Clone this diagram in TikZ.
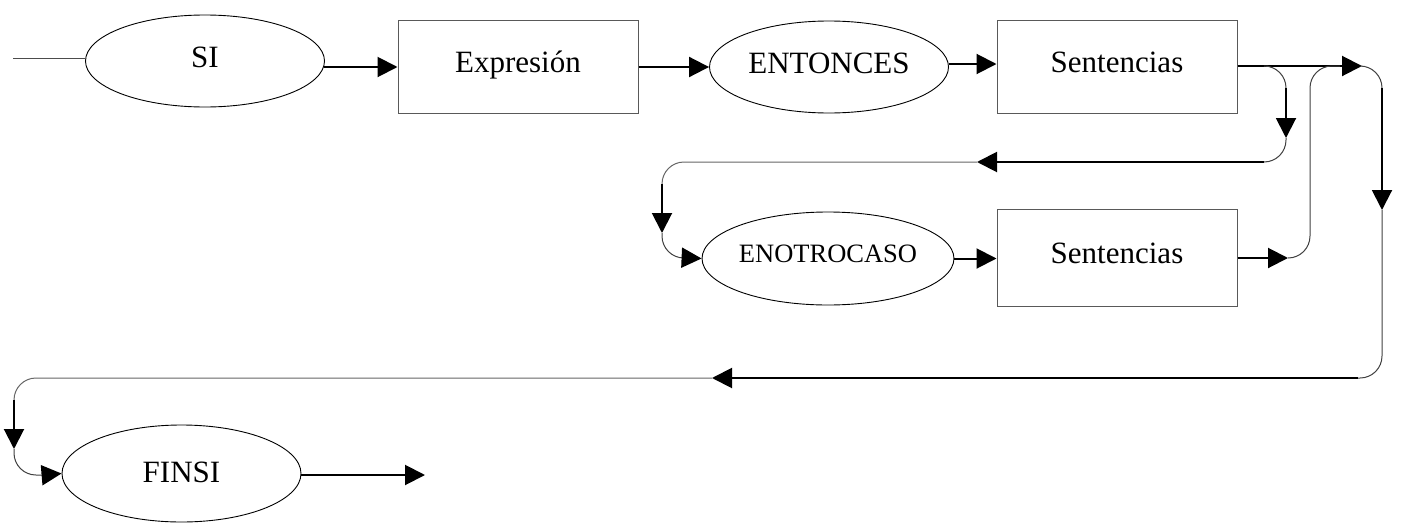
\documentclass[tikz,border=0pt]{standalone}
\usepackage{fontspec}
\setmainfont{Liberation Serif}
\usetikzlibrary{shapes.geometric,arrows.meta,calc}

\tikzset{
  lbl/.style={font=\fontsize{31}{36}\selectfont, text height=20pt, text depth=8pt},
  box/.style={lbl, draw=black!65, line width=1pt, minimum width=240pt,
              minimum height=93pt, inner sep=0pt},
  oval/.style={lbl, ellipse, draw=black, line width=0.9pt, minimum width=239pt,
               minimum height=92pt, inner sep=0pt},
  heavy/.style={line width=2pt, -{Triangle[length=20pt,width=20pt]}},
  light/.style={line width=1pt, draw=black!75, rounded corners=22pt},
}

\begin{document}
\begin{tikzpicture}[x=1pt,y=-1pt]
\useasboundingbox (0,0) rectangle (1406,525);

% first row
\node[oval] (si)   at (205,61)    {SI};
\node[box]  (expr) at (518,66.5)  {Expresión};
\node[oval] (ent)  at (829,67)    {ENTONCES};
\node[box]  (s1)   at (1117,66.5) {Sentencias};

% second row
\node[oval, minimum width=236pt, minimum height=93pt,
      font=\fontsize{26.5}{30}\selectfont, text height=18pt, text depth=11pt]
      (eno) at (828,258.5) {ENOTROCASO};
\node[box, minimum height=97pt] (s2) at (1117,257.5) {Sentencias};

% last row
\node[oval, minimum height=97pt, text depth=3pt] (fin) at (181.5,473.5) {FINSI};

% bend points of the connectors
\coordinate (start)  at (13,58);
\coordinate (t1)     at (1362,66);
\coordinate (d1)     at (1382,210);
\coordinate (b1)     at (1268,66);
\coordinate (d2)     at (1286,138);
\coordinate (l1)     at (977,162);
\coordinate (d3)     at (662,233);
\coordinate (r2)     at (1288,258);
\coordinate (l2)     at (712,378);
\coordinate (d4)     at (14,449);
\coordinate (out)    at (425,475);

% entry line
\draw[line width=1pt, draw=black!70] (start) -- (si.west |- start);

% main row
\draw[heavy] ($(si.east)+(-1,6)$) -- (expr.west |- 0,67);
\draw[heavy] (expr.east |- 0,67) -- (ent.west |- 0,67);
\draw[heavy] ($(ent.east)+(0,-3)$) -- (s1.west |- 0,64);
\draw[heavy] (s1.east |- t1) -- (t1);

% right-hand drop towards the bottom line
\draw[light] (t1) -| (1382,100);
\draw[heavy] (1382,88) -- (d1);
\draw[light] (d1) |- (1340,378);
\draw[heavy] (1358,378) -- (l2);
\draw[light, draw=black!60] (l2) -| (14,404);
\draw[heavy] (14,400) -- (d4);
\draw[light] (d4) |- (46,475);
\draw[heavy] (44,475) -- (fin.west);
\draw[heavy] (fin.east |- out) -- (out);

% branch to the ENOTROCASO path
\draw[light] (b1) -| (1286,100);
\draw[heavy] (1286,88) -- (d2);
\draw[light] (d2) |- (1250,162);
\draw[heavy] (1264,162) -- (l1);
\draw[light, draw=black!60] (l1) -| (662,190);
\draw[heavy] (662,184) -- (d3);
\draw[light] (d3) |- (692,258);
\draw[heavy] (690,258) -- (eno.west);
\draw[heavy] (eno.east) -- (s2.west |- eno.east);
\draw[heavy] (s2.east |- r2) -- (r2);

% return from the second Sentencias into the top line
\draw[light] (r2) -| (1310,150) |- (1340,66);

\end{tikzpicture}
\end{document}
